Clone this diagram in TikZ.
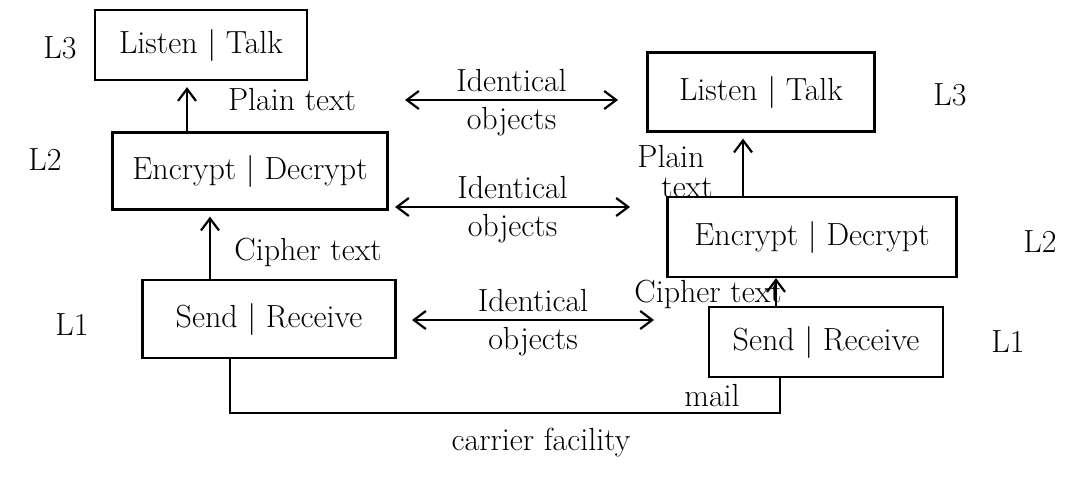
\documentclass[tikz,border=0pt]{standalone}
\usepackage{tikz}
\usetikzlibrary{positioning, arrows.meta}

\begin{document}
\begin{tikzpicture}[x=0.5pt, y=-0.5pt, font=\fontsize{16}{19}\selectfont, >={Straight Barb[length=6pt, width=9pt]},
  layerbox/.style={rectangle, draw=black, line width=1.1pt, inner sep=4pt},
  flow/.style={->, line width=1.1pt, shorten >=3pt}]
%
\useasboundingbox (0,0) rectangle (1079,482);

%%% LEFT STACK
\node [layerbox, minimum width=106pt, minimum height=35pt] (listen-l) at (201,45) {Listen | Talk};
\node [layerbox, minimum width=137.5pt, minimum height=38.5pt] (crypt-l) at (250,171) {Encrypt | Decrypt};
\node [layerbox, minimum width=126.5pt, minimum height=39pt] (send-l) at (269,319) {Send | Receive};

\node (lvl3-l) at (60,48) {L3};
\node (lvl2-l) at (45,160) {L2};
\node (lvl1-l) at (72,325) {L1};

%%% RIGHT STACK
\node [layerbox, minimum width=113.5pt, minimum height=39.5pt] (listen-r) at (761,92) {Listen | Talk};
\node [layerbox, minimum width=144.5pt, minimum height=40pt] (crypt-r) at (812,237) {Encrypt | Decrypt};
\node [layerbox, minimum width=117pt, minimum height=35pt] (send-r) at (826,342) {Send | Receive};

\node (lvl3-r) at (950,95) {L3};
\node (lvl2-r) at (1040,242) {L2};
\node (lvl1-r) at (1008,342) {L1};

%%% labels
\node (plain-l) at (292,100) {Plain text};
\node (cipher-l) at (308,252) {Cipher text};
\node [align=left] (plain-r) at (675,172) {Plain\\[-4pt]\hspace{12pt}text};
\node (cipher-r) at (708,294) {Cipher text};
\node (mail) at (712,396) {mail};
\node (carrier) at (541,443) {carrier facility};

%%% peer coordinates
\coordinate (peer3-a) at (405,100);
\coordinate (peer3-b) at (618,100);
\coordinate (peer2-a) at (395,207);
\coordinate (peer2-b) at (630,207);
\coordinate (peer1-a) at (412,320);
\coordinate (peer1-b) at (654,320);
\coordinate (wire) at (500,413);

%%% connections, arrows
\draw [flow] (crypt-l.north -| 187,0) -- (listen-l.south -| 187,0);
\draw [flow] (send-l.north -| 210,0) -- (crypt-l.south -| 210,0);
\draw [flow] (crypt-r.north -| 743,0) -- (listen-r.south -| 743,0);
\draw [flow, shorten >=0pt] (send-r.north -| 776,0) -- (crypt-r.south -| 776,0);

\draw [<->, line width=1.1pt] (peer3-a) -- node[above] (ident3) {Identical} node[below] (obj3) {objects} (peer3-b);
\draw [<->, line width=1.1pt] (peer2-a) -- node[above] (ident2) {Identical} node[below] (obj2) {objects} (peer2-b);
\draw [<->, line width=1.1pt] (peer1-a) -- node[above] (ident1) {Identical} node[below] (obj1) {objects} (peer1-b);

\draw [line width=1.1pt] (send-l.south -| 230,0) |- (wire) -| (send-r.south -| 780,0);

\end{tikzpicture}
\end{document}
